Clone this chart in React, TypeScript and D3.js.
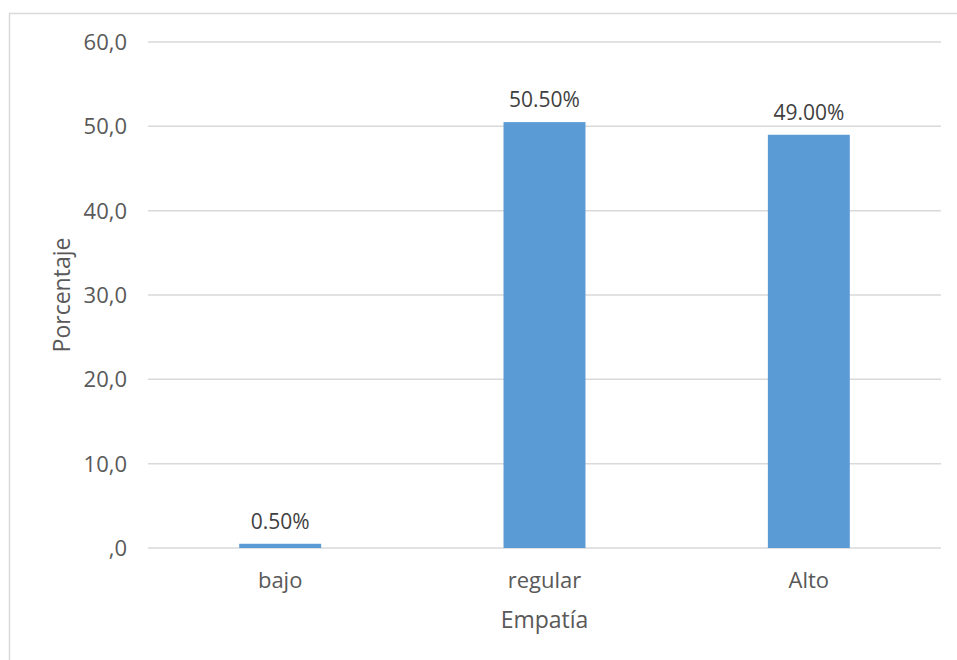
import React from "react";
import * as d3 from "d3";

const categories = ["bajo", "regular", "Alto"];
const values = [0.5, 50.5, 49.0];
const labels = ["0.50%", "50.50%", "49.00%"];
const yTicks = [0, 10, 20, 30, 40, 50, 60];
const xTitle = "Empatía";
const yTitle = "Porcentaje";

export default function App() {
  const W = 957, H = 660;
  const left = 148, right = 941, top = 42, bottom = 548;
  const x = d3.scaleBand<string>().domain(categories).range([left, right]).paddingInner(0.69).paddingOuter(0.345);
  const y = d3.scaleLinear().domain([0, 60]).range([bottom, top]);
  const fmt = (v: number) => (v === 0 ? ",0" : d3.format(".1f")(v).replace(".", ","));
  const font = "'Open Sans', sans-serif";
  const col = "#595959";
  return (
    <svg width={W} height={H} style={{ position: "absolute", left: 0, top: 0 }}>
      <rect x={0} y={0} width={W} height={H} fill="#fff" />
      <rect x={9.5} y={13.5} width={W + 20} height={H + 20} fill="none" stroke="#D9D9D9" strokeWidth={1.5} />
      {yTicks.map((t) => (
        <g key={t}>
          <line x1={left} x2={right} y1={y(t)} y2={y(t)} stroke="#D9D9D9" strokeWidth={1.5} />
          <text x={127} y={y(t)} dy="0.36em" textAnchor="end" fontFamily={font} fontSize={22} fill={col}>
            {fmt(t)}
          </text>
        </g>
      ))}
      {categories.map((c, i) => (
        <g key={c}>
          <rect x={x(c)} y={y(values[i])} width={x.bandwidth()} height={y(0) - y(values[i])} fill="#5B9BD5" />
          <text x={(x(c) as number) + x.bandwidth() / 2} y={y(values[i]) - 15} textAnchor="middle" fontFamily={font} fontSize={21} fill="#404040">
            {labels[i]}
          </text>
          <text x={(x(c) as number) + x.bandwidth() / 2} y={580} dy="0.36em" textAnchor="middle" fontFamily={font} fontSize={22} fill={col}>
            {c}
          </text>
        </g>
      ))}
      <text x={(left + right) / 2} y={620} dy="0.36em" textAnchor="middle" fontFamily={font} fontSize={23} fill={col}>
        {xTitle}
      </text>
      <text transform={`translate(62,${(top + bottom) / 2}) rotate(-90)`} dy="0.36em" textAnchor="middle" fontFamily={font} fontSize={23} fill={col}>
        {yTitle}
      </text>
    </svg>
  );
}
